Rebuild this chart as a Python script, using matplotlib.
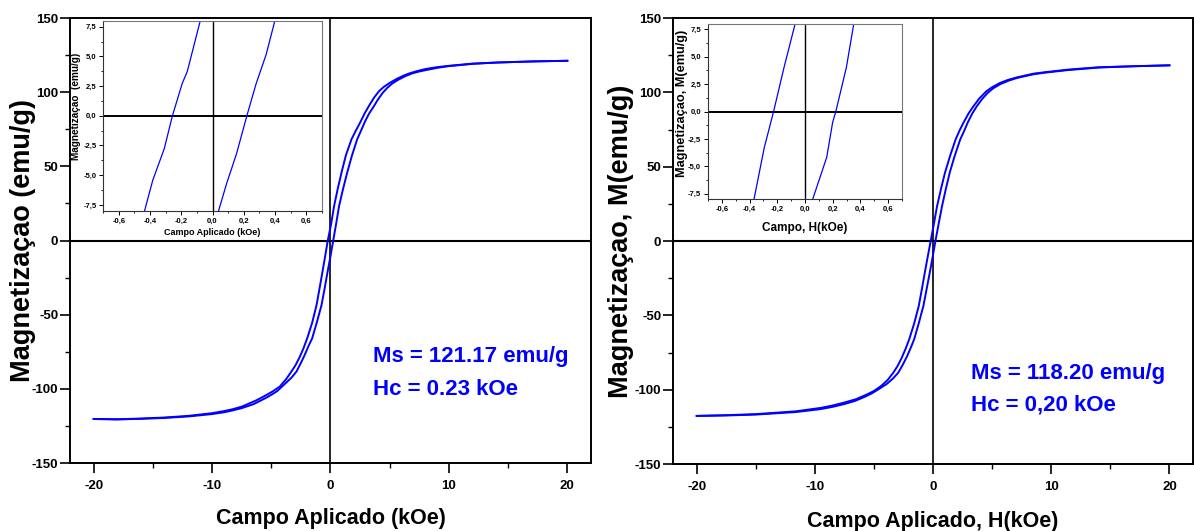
import numpy as np
import matplotlib
matplotlib.use("Agg")
import matplotlib.pyplot as plt
from matplotlib.ticker import MultipleLocator, FuncFormatter

plt.rcParams['font.family'] = ['Liberation Sans', 'DejaVu Sans']
plt.rcParams['font.weight'] = 'bold'
plt.rcParams['axes.unicode_minus'] = False

# ---- sample 1 (left): hysteresis loop, H in kOe, M in emu/g ----
h1_down = [20, 17, 14, 12, 10, 9, 8, 7.3, 6.7, 6.2, 5.6, 5.0, 4.5, 4.1, 3.7, 3.3, 2.9, 2.5, 2.1, 1.77,
           1.3, 0.93, 0.6, 0.31, 0.05, -0.23, -0.45, -0.68, -0.93, -1.18, -1.55, -1.97, -2.3, -2.6,
           -2.95, -3.3, -3.75, -4.28, -4.9, -5.5, -6.2, -7.0, -7.5, -8.3, -9, -10, -12, -14, -16,
           -18, -20]
m1_down = [121.2, 120.8, 120.0, 119.3, 117.8, 116.9, 115.6, 114.2, 112.8, 111.3, 109.0, 106.3, 103.6,
           100.7, 96.6, 91.5, 86.0, 79.5, 73.5, 68.2, 57.5, 45.8, 34.5, 23.5, 11.0, 0.0, -10.5, -21.2,
           -32.5, -43.6, -55.5, -66.0, -73.0, -78.5, -84.0, -88.3, -93.5, -98.4, -101.8, -104.5,
           -107.5, -110.3, -112.0, -113.8, -115.0, -116.4, -118.2, -119.3, -120.0, -120.5, -120.3]
h1_up = [-20, -18, -16, -14, -12, -10, -9, -8.3, -7.5, -6.5, -5.5, -5.0, -4.5, -3.9, -3.3, -2.87, -2.5,
         -2.2, -1.85, -1.55, -1.15, -0.76, -0.5, -0.25, 0.0, 0.23, 0.48, 0.73, 1.05, 1.41, 1.8, 2.25,
         2.6, 2.9, 3.25, 3.66, 4.0, 4.4, 4.8, 5.2, 5.7, 6.3, 6.9, 7.5, 8.3, 9, 10, 12, 14, 17, 20]
m1_up = [-120.3, -120.6, -120.2, -119.6, -118.6, -117.0, -115.8, -114.6, -113.0, -110.3, -106.3,
         -104.0, -101.5, -97.0, -92.5, -88.3, -82.5, -77.5, -71.0, -66.0, -55.0, -43.6, -32.5, -21.2,
         -10.5, 0.0, 11.5, 23.5, 34.5, 45.8, 57.0, 68.2, 74.5, 80.0, 85.5, 90.5, 95.0, 99.5, 103.0,
         105.8, 108.3, 110.8, 112.7, 114.0, 115.3, 116.4, 117.6, 119.1, 120.0, 120.7, 121.2]

# inset 1 (zoom near origin)
h1_in_a = [-0.436, -0.383, -0.309, -0.257, -0.194, -0.162, -0.078]
m1_in_a = [-8.03, -5.43, -2.76, 0.0, 2.73, 3.72, 8.03]
h1_in_b = [0.038, 0.09, 0.154, 0.22, 0.28, 0.343, 0.40]
m1_in_b = [-8.03, -5.72, -3.18, 0.0, 2.73, 5.13, 8.03]

# ---- sample 2 (right) ----
h2_down = [20, 17, 14, 11.4, 9.5, 8.5, 7.1, 6.3, 5.65, 5.0, 4.5, 3.9, 3.43, 3.0, 2.6, 2.25, 1.91, 1.45,
           1.01, 0.67, 0.34, 0.07, -0.2, -0.45, -0.70, -0.95, -1.21, -1.6, -2.02, -2.3, -2.65, -3.0,
           -3.37, -3.85, -4.4, -5.0, -5.6, -6.5, -7.5, -8.5, -9.5, -11.6, -15, -17.5, -20]
m2_down = [118.2, 117.6, 116.9, 115.3, 113.6, 112.6, 110.1, 108.3, 106.3, 103.5, 100.7, 95.8, 90.8,
           85.8, 80.0, 74.5, 68.4, 57.5, 46.0, 35.0, 23.5, 11.5, 0.0, -10.5, -21.3, -32.5, -43.7,
           -55.5, -66.1, -72.0, -78.5, -84.0, -88.6, -93.5, -97.5, -100.8, -103.2, -106.3, -108.6,
           -110.6, -112.2, -114.5, -116.4, -117.1, -117.6]
h2_up = [-20, -17.5, -15, -11.6, -9.5, -8.5, -7.5, -6.6, -5.8, -5.2, -4.68, -3.9, -3.4, -2.95, -2.55,
         -2.2, -1.9, -1.6, -1.2, -0.82, -0.55, -0.28, -0.03, 0.2, 0.47, 0.76, 1.08, 1.41, 1.82, 2.30,
         2.6, 2.95, 3.3, 3.71, 4.15, 4.6, 5.1, 5.7, 6.4, 7.1, 8.5, 9.5, 11.4, 14, 17, 20]
m2_up = [-117.6, -117.3, -116.7, -115.0, -113.0, -111.5, -109.6, -107.5, -104.8, -102.5, -100.0,
         -96.0, -92.5, -88.6, -83.0, -77.5, -72.0, -66.1, -55.0, -43.7, -32.5, -21.3, -10.5, 0.0,
         11.5, 23.5, 35.0, 46.0, 57.0, 68.4, 73.5, 80.0, 85.5, 90.8, 95.5, 99.5, 102.8, 105.6, 107.9,
         109.7, 112.2, 113.3, 115.0, 116.7, 117.6, 118.2]

h2_in_a = [-0.369, -0.294, -0.227, -0.152, -0.074]
m2_in_a = [-8.06, -3.28, 0.0, 4.02, 7.9]
h2_in_b = [0.054, 0.156, 0.199, 0.222, 0.298, 0.35]
m2_in_b = [-8.06, -4.2, -1.0, 0.0, 4.02, 7.9]

blue = '#0000ff'
comma = FuncFormatter(lambda v, p: f"{v:.1f}".replace('.', ','))


def main_axes(ax, hd, md, hu, mu, ylabel, xlabel, ylab_x, xlab_y):
    ax.plot(hd, md, color=blue, lw=1.4)
    ax.plot(hu, mu, color=blue, lw=1.4)
    ax.axhline(0, color='black', lw=1.5, zorder=1)
    ax.axvline(0, color='black', lw=1.2, zorder=1)
    ax.set_xlim(-22, 22)
    ax.set_ylim(-150, 150)
    ax.xaxis.set_major_locator(MultipleLocator(10))
    ax.xaxis.set_minor_locator(MultipleLocator(5))
    ax.yaxis.set_major_locator(MultipleLocator(50))
    ax.yaxis.set_minor_locator(MultipleLocator(25))
    ax.tick_params(which='major', direction='out', length=7, width=1.2, labelsize=9.5)
    ax.tick_params(axis='x', which='major', pad=5.5)
    ax.tick_params(axis='y', which='major', pad=1.5)
    ax.tick_params(which='minor', direction='out', length=3.5, width=1.0)
    for s in ax.spines.values():
        s.set_linewidth(1.4)
    ax.set_ylabel(ylabel, fontsize=19.5, fontweight='bold')
    ax.set_xlabel(xlabel, fontsize=15.5, fontweight='bold')
    ax.yaxis.set_label_coords(ylab_x, 0.5)
    ax.xaxis.set_label_coords(0.5, xlab_y)


def inset_axes(ax, ha, ma, hb, mb, ylabel, xlabel, ysize, xsize, ylab_xy, xlab_y):
    ax.plot(ha, ma, color=blue, lw=0.9)
    ax.plot(hb, mb, color=blue, lw=0.9)
    ax.axhline(0, color='black', lw=1.4, zorder=1)
    ax.axvline(0, color='black', lw=1.0, zorder=1)
    ax.set_xlim(-0.7, 0.7)
    ax.set_ylim(-8, 8)
    ax.xaxis.set_major_locator(MultipleLocator(0.2))
    ax.xaxis.set_minor_locator(MultipleLocator(0.1))
    ax.yaxis.set_major_locator(MultipleLocator(2.5))
    ax.yaxis.set_minor_locator(MultipleLocator(1.25))
    ax.xaxis.set_major_formatter(comma)
    ax.yaxis.set_major_formatter(comma)
    ax.tick_params(which='major', direction='out', length=3, width=0.7, labelsize=5.5, pad=2)
    ax.tick_params(which='minor', direction='out', length=1.6, width=0.6)
    for s in ax.spines.values():
        s.set_linewidth(0.8)
        s.set_color('#333333')
    ax.spines['right'].set_color('#777777')
    ax.spines['top'].set_color('#777777')
    ax.set_ylabel(ylabel, fontsize=ysize, fontweight='bold')
    ax.set_xlabel(xlabel, fontsize=xsize, fontweight='bold')
    ax.yaxis.set_label_coords(*ylab_xy)
    ax.xaxis.set_label_coords(0.5, xlab_y)


fig = plt.figure(figsize=(11.94, 5.31), dpi=100)

ax1 = fig.add_axes([0.0586, 0.128, 0.4364, 0.838])
main_axes(ax1, h1_down, m1_down, h1_up, m1_up,
          'Magnetizaçao (emu/g)', 'Campo Aplicado (kOe)', -0.065, -0.1)
ax1.text(3.57, -78, 'Ms = 121.17 emu/g', color=blue, fontsize=16, fontweight='bold', va='center')
ax1.text(3.57, -100.6, 'Hc = 0.23 kOe', color=blue, fontsize=16, fontweight='bold', va='center')

ax2 = fig.add_axes([0.5637, 0.126, 0.4355, 0.840])
main_axes(ax2, h2_down, m2_down, h2_up, m2_up,
          'Magnetizaçao, M(emu/g)', 'Campo Aplicado, H(kOe)', -0.075, -0.105)
ax2.text(3.24, -89, 'Ms = 118.20 emu/g', color=blue, fontsize=16, fontweight='bold', va='center')
ax2.text(3.24, -110.3, 'Hc = 0,20 kOe', color=blue, fontsize=16, fontweight='bold', va='center')

in1 = fig.add_axes([0.0865, 0.603, 0.183, 0.358])
inset_axes(in1, h1_in_a, m1_in_a, h1_in_b, m1_in_b,
           'Magnetizaçao  (emu/g)', 'Campo Aplicado (kOe)', 7.2, 6.5, (-0.1, 0.55), -0.09)

in2 = fig.add_axes([0.593, 0.6252, 0.1625, 0.3296])
inset_axes(in2, h2_in_a, m2_in_a, h2_in_b, m2_in_b,
           'Magnetizaçao, M(emu/g)', 'Campo, H(kOe)', 9.2, 8.5, (-0.105, 0.545), -0.13)

fig.savefig('out.png', dpi=100)
